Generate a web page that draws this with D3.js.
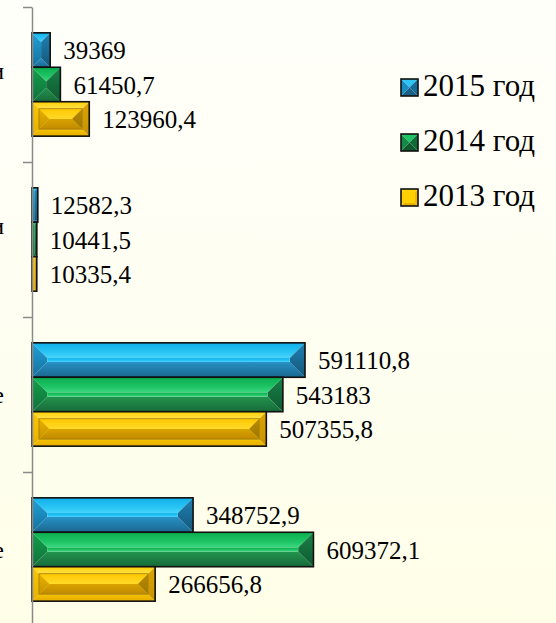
<!DOCTYPE html>
<html><head><meta charset="utf-8">
<script src="https://cdn.jsdelivr.net/npm/d3@7"></script>
<style>html,body{margin:0;padding:0;background:#fff;} svg{display:block}</style>
</head><body>
<svg id="chart" width="556" height="623"></svg>
<script>
// ---- data ----
const categories = ["cat1", "cat2", "cat3", "cat4"];
const categoryLabels = [
  ["Расходы по кредитам и", "займам"],
  ["Проценты по займам и", "кредитам"],
  ["Собственные средства в обороте"],
  ["Заемные средства в обороте"]
];
const seriesNames = ["2015 год", "2014 год", "2013 год"];
const values2015 = [39369, 12582.3, 591110.8, 348752.9];
const values2014 = [61450.7, 10441.5, 543183, 609372.1];
const values2013 = [123960.4, 10335.4, 507355.8, 266656.8];
const seriesValues = [values2015, values2014, values2013];

// ---- styles ----
const palette = [
  { // blue
    top: [[0, "#10b0ea"], [0.6, "#28c4f4"], [1, "#48d4fb"]],
    bot: [[0, "#2890c4"], [1, "#1a6890"]],
    left: [[0, "#1ea2da"], [1, "#176f9a"]],
    right: [[0, "#1f80b2"], [1, "#14577a"]]
  },
  { // green
    top: [[0, "#0aae4e"], [0.6, "#1ec363"], [1, "#3cd982"]],
    bot: [[0, "#22944e"], [1, "#176a39"]],
    left: [[0, "#12a04a"], [1, "#10703a"]],
    right: [[0, "#198047"], [1, "#0e592f"]]
  },
  { // yellow
    top: [[0, "#ffd000"], [1, "#ffe14a"]],
    bot: [[0, "#f5c300"], [1, "#e6ac00"]],
    left: [[0, "#f8c800"], [1, "#e8b000"]],
    right: [[0, "#dca400"], [1, "#c89200"]],
    itop: [[0, "#ffc800"], [1, "#ffd92a"]],
    ibot: [[0, "#d9a300"], [1, "#c08a00"]],
    ileft: [[0, "#e8b000"], [1, "#c89400"]],
    iright: [[0, "#b88a00"], [1, "#a07800"]],
    frame: true
  }
];

const W = 556, H = 623;
const svg = d3.select("#chart");
const defs = svg.append("defs");
const serif = "'Liberation Serif','Times New Roman',serif";

function grad(id, stops) {
  const g = defs.append("linearGradient").attr("id", id)
    .attr("x1", 0).attr("y1", 0).attr("x2", 0).attr("y2", 1);
  stops.forEach(([o, c]) => g.append("stop").attr("offset", o).attr("stop-color", c));
  return `url(#${id})`;
}
const bgFill = grad("bg", [[0, "#fffffa"], [0.5, "#fefef2"], [1, "#ffffe8"]]);
svg.append("rect").attr("width", W).attr("height", H).attr("fill", bgFill);

const fills = palette.map((p, i) => {
  const o = {};
  Object.keys(p).forEach(k => { if (k !== "frame") o[k] = grad(`g${i}${k}`, p[k]); });
  o.frame = !!p.frame;
  return o;
});

// ---- scales ----
const x = d3.scaleLinear().domain([0, 700000]).range([32, 355.3]);
const y = d3.scaleBand().domain(categories).range([7, 627]);
const ys = d3.scaleBand().domain(seriesNames).range([0, y.bandwidth()]).paddingOuter(0.75);

function bevel(g, x0, y0, w, h, b, f) {
  const x1 = x0 + w, y1 = y0 + h;
  b = Math.min(b, w / 2, h / 2);
  const pts = a => a.map(p => p.join(",")).join(" ");
  g.append("polygon").attr("points", pts([[x0, y0], [x1, y0], [x1 - b, y0 + b], [x0 + b, y0 + b]])).attr("fill", f.top);
  g.append("polygon").attr("points", pts([[x0, y1], [x1, y1], [x1 - b, y1 - b], [x0 + b, y1 - b]])).attr("fill", f.bot);
  g.append("polygon").attr("points", pts([[x0, y0], [x0 + b, y0 + b], [x0 + b, y1 - b], [x0, y1]])).attr("fill", f.left);
  g.append("polygon").attr("points", pts([[x1, y0], [x1 - b, y0 + b], [x1 - b, y1 - b], [x1, y1]])).attr("fill", f.right);
  if (h - 2 * b > 0.5 && w - 2 * b > 0.5)
    g.append("rect").attr("x", x0 + b).attr("y", y0 + b).attr("width", w - 2 * b).attr("height", h - 2 * b).attr("fill", f.mid || f.top);
}

// ---- bars ----
const barsG = svg.append("g");
categories.forEach((c, ci) => {
  seriesNames.forEach((s, si) => {
    const v = seriesValues[si][ci];
    const x0 = x(0), w = x(v) - x(0);
    const y0 = y(c) + ys(s), h = ys.bandwidth();
    const f = fills[si];
    const g = barsG.append("g");
    if (!f.frame) {
      bevel(g, x0, y0, w, h, h / 2 - 2, f);
    } else {
      const fr = 7;
      bevel(g, x0, y0, w, h, fr, f);
      if (w > 2 * fr + 2) {
        bevel(g, x0 + fr, y0 + fr, w - 2 * fr, h - 2 * fr, (h - 2 * fr) / 2,
          { top: f.itop, bot: f.ibot, left: f.ileft, right: f.iright });
        g.append("rect").attr("x", x0 + fr).attr("y", y0 + fr).attr("width", w - 2 * fr).attr("height", h - 2 * fr)
          .attr("fill", "none").attr("stroke", "#a37b00").attr("stroke-width", 0.8);
      }
    }
    g.append("rect").attr("x", x0).attr("y", y0).attr("width", w).attr("height", h)
      .attr("fill", "none").attr("stroke", "#111").attr("stroke-width", 1.6);
    // value label
    svg.append("text").attr("x", x(v) + 13).attr("y", y0 + h / 2).attr("dy", "0.36em")
      .attr("font-family", serif).attr("font-size", 25)
      .attr("fill", "#000").text(String(v).replace(".", ","));
  });
});

// ---- axis ----
const axisScale = d3.scaleLinear().domain([0, categories.length]).range(y.range());
const axisG = svg.append("g").attr("transform", `translate(${x(0)},0)`)
  .call(d3.axisLeft(axisScale).ticks(categories.length).tickSize(9).tickSizeOuter(0).tickFormat(""));
axisG.selectAll("path,line").attr("stroke", "#8a8a8a").attr("stroke-width", 1.5);

// ---- category labels (cut off at left edge, as in the original) ----
categories.forEach((c, ci) => {
  const lines = categoryLabels[ci];
  const lh = 28;
  const t = svg.append("text").attr("font-family", serif)
    .attr("font-size", 24).attr("fill", "#000").attr("text-anchor", "middle");
  const cy = y(c) + y.bandwidth() / 2;
  lines.forEach((ln, li) => {
    t.append("tspan").attr("x", 0).attr("y", cy + (li - (lines.length - 1) / 2) * lh).attr("dy", "0.35em").text(ln);
  });
  let maxW = 0;
  t.selectAll("tspan").each(function () { maxW = Math.max(maxW, this.getComputedTextLength()); });
  t.selectAll("tspan").attr("x", 4 - maxW / 2);
});

// ---- legend ----
const legend = svg.append("g").attr("transform", "translate(401,96)");
const legendMarks = [
  { top: "#2ec4f3", left: "#1a8cc4", right: "#156a96", bot: "#1b5f84" },
  { top: "#1ec463", left: "#148a46", right: "#0f6a36", bot: "#0e5a2e" },
  { top: "#ffd200", left: "#ffcc00", right: "#f0b800", bot: "#e8b000", mid: "#ffd000" }
];
seriesNames.forEach((s, i) => {
  const g = legend.append("g").attr("transform", `translate(0,${i * 55})`);
  bevel(g, 0, -17, 17, 17, i === 2 ? 3 : 8.5, legendMarks[i]);
  g.append("rect").attr("x", 0).attr("y", -17).attr("width", 17).attr("height", 17)
    .attr("fill", "none").attr("stroke", "#111").attr("stroke-width", 1.6);
  g.append("text").attr("x", 22).attr("y", 0)
    .attr("font-family", serif).attr("font-size", 31)
    .attr("fill", "#000").text(s);
});
</script>
</body></html>
